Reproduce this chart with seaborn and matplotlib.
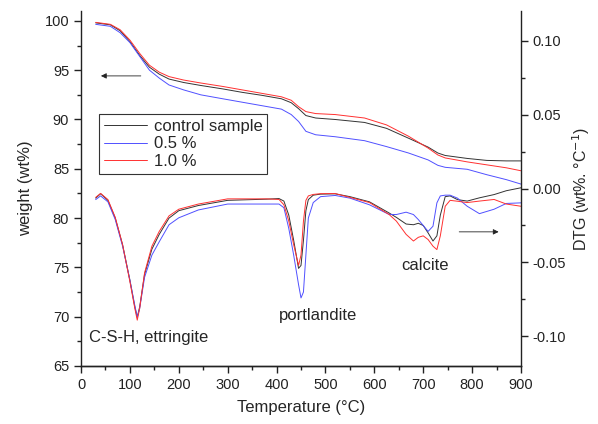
import matplotlib

matplotlib.use("Agg")
import matplotlib.pyplot as plt
import numpy as np
import pandas as pd
import seaborn as sns
from matplotlib.ticker import MultipleLocator

# TG (weight, left axis)
tg_temp = [30, 60, 80, 100, 120, 140, 160, 180, 210, 245, 290, 330, 370, 410, 430,
           445, 460, 480, 520, 580, 625, 670, 710, 730, 745, 790, 830, 870, 900]
tg_control = [99.8, 99.6, 99.0, 97.9, 96.5, 95.3, 94.6, 94.1, 93.75, 93.45, 93.1, 92.75,
              92.45, 92.1, 91.7, 91.1, 90.4, 90.15, 90.0, 89.7, 89.1, 88.1, 87.2, 86.6,
              86.35, 86.05, 85.85, 85.8, 85.8]
tg_05 = [99.65, 99.45, 98.8, 97.8, 96.4, 95.0, 94.2, 93.5, 93.0, 92.5, 92.1, 91.75,
         91.4, 91.05, 90.5, 89.8, 88.8, 88.45, 88.25, 87.85, 87.25, 86.6, 85.9, 85.35,
         85.15, 84.95, 84.4, 83.9, 83.45]
tg_10 = [99.85, 99.65, 99.1, 98.05, 96.7, 95.5, 94.8, 94.35, 94.0, 93.7, 93.35, 93.0,
         92.65, 92.3, 91.95, 91.3, 90.8, 90.6, 90.5, 90.15, 89.45, 88.3, 87.1, 86.4,
         86.1, 85.7, 85.4, 85.1, 84.8]

# DTG (right axis)
dtg_temp = [30, 40, 55, 70, 85, 100, 110, 115, 120, 130, 145, 160, 180, 200, 240, 300,
            380, 405, 415, 425, 435, 445, 450, 455, 460, 465, 475, 490, 520, 550, 590,
            630, 645, 665, 680, 690, 700, 710, 720, 728, 735, 745, 755, 770, 790, 815,
            845, 870, 900]
dtg_control = [-0.0065, -0.0035, -0.008, -0.020, -0.038, -0.062, -0.080, -0.087, -0.080,
               -0.058, -0.041, -0.031, -0.020, -0.015, -0.0115, -0.008, -0.0072, -0.0068,
               -0.0085, -0.018, -0.035, -0.054, -0.052, -0.035, -0.015, -0.0075, -0.0045,
               -0.0038, -0.0036, -0.0055, -0.009, -0.0165, -0.0195, -0.024, -0.0245,
               -0.0235, -0.025, -0.030, -0.0355, -0.032, -0.018, -0.0055, -0.005, -0.0075,
               -0.0085, -0.0063, -0.0041, -0.0015, 0.0005]
dtg_05 = [-0.0075, -0.005, -0.009, -0.021, -0.039, -0.062, -0.079, -0.087, -0.081, -0.060,
          -0.045, -0.036, -0.0245, -0.0198, -0.0145, -0.0105, -0.0105, -0.0105, -0.013,
          -0.027, -0.045, -0.065, -0.074, -0.070, -0.045, -0.020, -0.0095, -0.0055,
          -0.0047, -0.0065, -0.011, -0.0175, -0.0176, -0.016, -0.0176, -0.021, -0.025,
          -0.029, -0.0255, -0.0097, -0.005, -0.0045, -0.0045, -0.0065, -0.012, -0.017,
          -0.014, -0.0101, -0.0097]
dtg_10 = [-0.006, -0.0033, -0.0075, -0.0195, -0.038, -0.063, -0.081, -0.089, -0.081,
          -0.057, -0.039, -0.029, -0.0185, -0.014, -0.0105, -0.007, -0.007, -0.0074,
          -0.011, -0.022, -0.038, -0.052, -0.045, -0.022, -0.008, -0.005, -0.004,
          -0.0035, -0.0034, -0.006, -0.0095, -0.0175, -0.022, -0.031, -0.0355, -0.033,
          -0.032, -0.0345, -0.039, -0.0413, -0.032, -0.012, -0.008, -0.0086, -0.0095,
          -0.0085, -0.0074, -0.0105, -0.012]

labels = ["control sample", "0.5 %", "1.0 %"]
colors = ["#333333", "#5050ff", "#ff3030"]

sns.set_style("ticks")
plt.rcParams["font.family"] = ["Liberation Sans", "DejaVu Sans"]

fig, ax = plt.subplots(figsize=(5.98, 4.24), dpi=100)
fig.subplots_adjust(left=0.1355, right=0.8712, bottom=0.1368, top=0.974)
ax2 = ax.twinx()

# 重量曲線（左軸）
for y, lab, c in zip([tg_control, tg_05, tg_10], labels, colors):
    sns.lineplot(x=tg_temp, y=y, ax=ax, color=c, linewidth=0.7, label=lab)

# DTG曲線（右軸）
for y, c in zip([dtg_control, dtg_05, dtg_10], colors):
    sns.lineplot(x=dtg_temp, y=y, ax=ax2, color=c, linewidth=0.7)

ax.set_xlim(0, 900)
ax.set_ylim(65, 101)
ax2.set_ylim(-0.12, 0.12)

ax.xaxis.set_major_locator(MultipleLocator(100))
ax.xaxis.set_minor_locator(MultipleLocator(50))
ax.yaxis.set_major_locator(MultipleLocator(5))
ax.yaxis.set_minor_locator(MultipleLocator(2.5))
ax2.yaxis.set_major_locator(MultipleLocator(0.05))
ax2.yaxis.set_minor_locator(MultipleLocator(0.025))
ax2.yaxis.set_major_formatter(matplotlib.ticker.FormatStrFormatter("%.2f"))

for a in (ax, ax2):
    a.spines["top"].set_visible(False)
    for s in a.spines.values():
        s.set_linewidth(1.0)
        s.set_color("#222222")
    a.tick_params(which="major", direction="out", length=5, width=1, labelsize=10.5, colors="#222222")
    a.tick_params(which="minor", direction="out", length=3, width=1, colors="#222222")
ax.spines["right"].set_visible(False)
ax2.spines["left"].set_visible(False)

ax.set_xlabel("Temperature (°C)", fontsize=12, labelpad=6)
ax.set_ylabel("weight (wt%)", fontsize=12, labelpad=8)
ax2.set_ylabel("DTG (wt%. °C$^{-1}$)", fontsize=11.5, labelpad=3)

ax.legend(loc="upper left", bbox_to_anchor=(0.04, 0.71), fontsize=12, frameon=True,
          fancybox=False, edgecolor="#333333", framealpha=1, borderpad=0.3,
          labelspacing=0.15, handlelength=2.6, handletextpad=0.4, borderaxespad=0)
ax.get_legend().get_frame().set_linewidth(0.8)

ax.text(16, 67.9, "C-S-H, ettringite", fontsize=12, va="center", ha="left")
ax.text(485, 70.1, "portlandite", fontsize=12, va="center", ha="center")
ax.text(703, 75.2, "calcite", fontsize=12, va="center", ha="center")

ax.annotate("", xy=(35, 94.42), xytext=(128, 94.42),
            arrowprops=dict(arrowstyle="-|>", color="#222222", lw=0.6, mutation_scale=8))
ax2.annotate("", xy=(860, -0.0293), xytext=(768, -0.0293),
             arrowprops=dict(arrowstyle="-|>", color="#222222", lw=0.6, mutation_scale=8))

fig.savefig("out.png", dpi=100)
plt.close(fig)
